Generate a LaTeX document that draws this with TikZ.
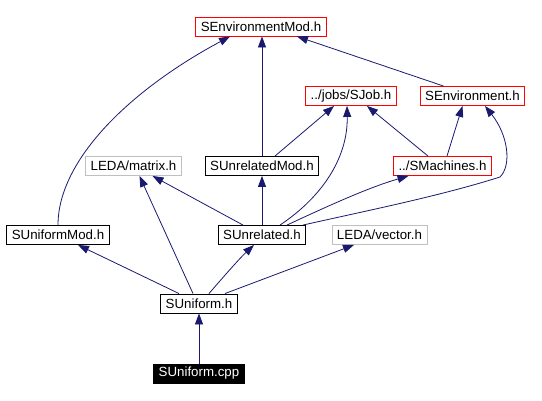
\documentclass[tikz,border=0pt]{standalone}
\usepackage{fontspec}
\setmainfont{Liberation Sans}
\usetikzlibrary{arrows.meta}
\definecolor{edgeblue}{HTML}{191970}
\begin{document}
\begin{tikzpicture}[x=1pt,y=-1pt]
\tikzstyle{hfile}=[rectangle,draw=black,line width=0.9pt,minimum height=19pt,inner xsep=5pt,inner ysep=0pt,font=\fontsize{13.3}{15}\selectfont]
\tikzstyle{redfile}=[hfile,draw=red]
\tikzstyle{extfile}=[hfile,draw=black!25]
\tikzstyle{srcfile}=[hfile,fill=black,text=white]
\tikzstyle{inc}=[draw=edgeblue,line width=0.8pt,-{Triangle[length=11pt,width=8pt]},fill=none]
\useasboundingbox (0,0) rectangle (542,401);
\node [redfile] (envmod) at (261,26.5) {SEnvironmentMod.h};
\node [redfile] (sjob) at (351,96) {../jobs/SJob.h};
\node [redfile] (senv) at (472.5,96) {SEnvironment.h};
\node [extfile] (matrix) at (133.5,166) {LEDA/matrix.h};
\node [hfile] (urmod) at (262,166) {SUnrelatedMod.h};
\node [redfile] (smach) at (442.5,166) {../SMachines.h};
\node [hfile] (ufmod) at (58,235) {SUniformMod.h};
\node [hfile] (unrel) at (262,235) {SUnrelated.h};
\node [extfile] (vector) at (379.5,235) {LEDA/vector.h};
\node [hfile] (unif) at (199,303.5) {SUniform.h};
\node [srcfile] (cpp) at (199,373.5) {SUniform.cpp};
\draw [inc] (ufmod.north) .. controls (58,160) and (130,90) .. ([xshift=-31pt]envmod.south);
\draw [inc] (urmod.north) -- (urmod.north |- envmod.south);
\draw [inc] ([xshift=-29pt]senv.north) -- ([xshift=36pt]envmod.south);
\draw [inc] ([xshift=13pt]urmod.north) -- ([xshift=-17pt]sjob.south);
\draw [inc] ([xshift=18pt]unrel.north) .. controls (325,195) and (348,155) .. ([xshift=-4pt]sjob.south);
\draw [inc] ([xshift=-14.5pt]smach.north) -- ([xshift=16pt]sjob.south);
\draw [inc] ([xshift=4.5pt]smach.north) -- ([xshift=-10pt]senv.south);
\draw [inc] ([xshift=41pt]unrel.north) .. controls (370,210) and (440,196) .. (500,177) .. controls (512,165) and (508,135) .. ([xshift=12.5pt]senv.south);
\draw [inc] ([xshift=25pt]unrel.north) .. controls (330,205) and (370,187) .. ([xshift=-34pt]smach.south);
\draw [inc] ([xshift=-19pt]unrel.north) -- ([xshift=19pt]matrix.south);
\draw [inc] (unrel.north) -- (urmod.south);
\draw [inc] ([xshift=-20pt]unif.north) -- ([xshift=20pt]ufmod.south);
\draw [inc] ([xshift=-6pt]unif.north) -- ([xshift=6pt]matrix.south);
\draw [inc] ([xshift=10pt]unif.north) .. controls (225,275) and (240,258) .. ([xshift=-8pt]unrel.south);
\draw [inc] ([xshift=26pt]unif.north) -- ([xshift=-25.5pt]vector.south);
\draw [inc] (cpp.north) -- (unif.south);
\end{tikzpicture}
\end{document}
